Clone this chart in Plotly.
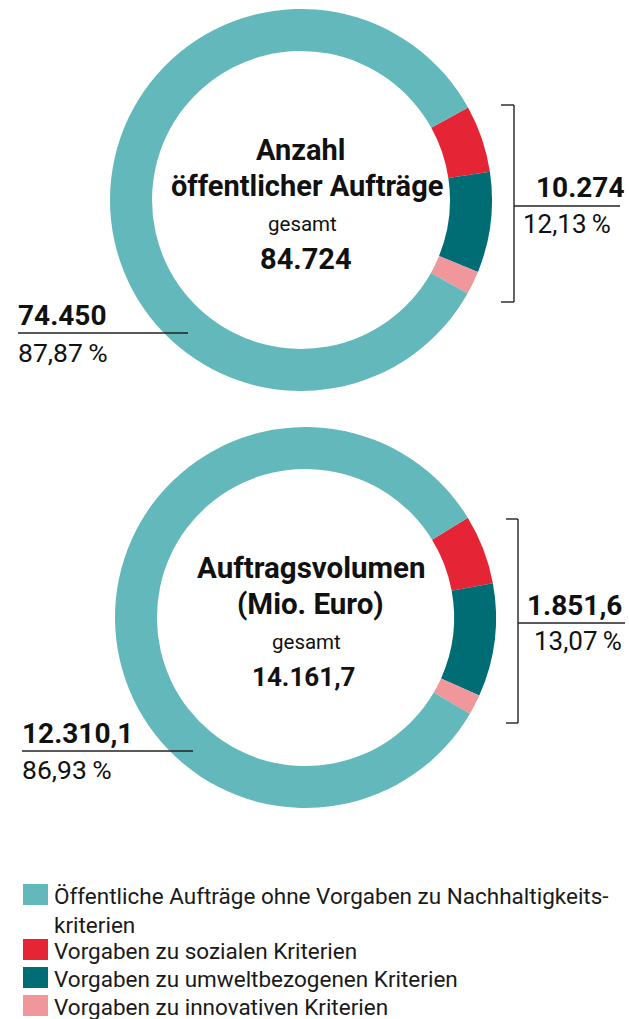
import plotly.graph_objects as go

# ---------------- data ----------------
segment_labels = [
    "Vorgaben zu sozialen Kriterien",
    "Vorgaben zu umweltbezogenen Kriterien",
    "Vorgaben zu innovativen Kriterien",
    "Öffentliche Aufträge ohne Vorgaben zu Nachhaltigkeitskriterien",
]
segment_colors = ["#E52535", "#006D74", "#F0979B", "#62B8BA"]

# slice shares as drawn in the rings (percent of the full circle)
anzahl_shares = [5.7, 8.5, 2.0, 83.8]
volumen_shares = [5.9, 9.6, 1.7, 82.8]

anzahl_title = ["Anzahl", "öffentlicher Aufträge"]
anzahl_total = "84.724"
anzahl_with = "10.274"
anzahl_with_pct = "12,13\u2009%"
anzahl_without = "74.450"
anzahl_without_pct = "87,87\u2009%"

volumen_title = ["Auftragsvolumen", "(Mio. Euro)"]
volumen_total = "14.161,7"
volumen_with = "1.851,6"
volumen_with_pct = "13,07\u2009%"
volumen_without = "12.310,1"
volumen_without_pct = "86,93\u2009%"

legend_labels = [
    "Öffentliche Aufträge ohne Vorgaben zu Nachhaltigkeits-<br>kriterien",
    "Vorgaben zu sozialen Kriterien",
    "Vorgaben zu umweltbezogenen Kriterien",
    "Vorgaben zu innovativen Kriterien",
]
legend_colors = ["#62B8BA", "#E52535", "#006D74", "#F0979B"]

# ---------------- layout helpers ----------------
W, H = 629, 1019
FONT = "Roboto"
INK = "#111111"


def px(x):
    return x / W


def py(y):
    return 1 - y / H


fig = go.Figure()


def add_donut(shares, cx, cy, r, rotation):
    fig.add_trace(go.Pie(
        labels=segment_labels,
        values=shares,
        marker=dict(colors=segment_colors, line=dict(width=0)),
        hole=0.78,
        sort=False,
        direction="clockwise",
        rotation=rotation,
        textinfo="none",
        hoverinfo="label+percent",
        showlegend=False,
        domain=dict(x=[px(cx - r), px(cx + r)], y=[py(cy + r), py(cy - r)]),
    ))


add_donut(anzahl_shares, 301, 200, 191, 61)
add_donut(volumen_shares, 305.5, 617.5, 190.5, 58.4)

shapes = []


def line(x0, y0, x1, y1, w=1.4):
    shapes.append(dict(type="line", xref="paper", yref="paper",
                       x0=px(x0), y0=py(y0), x1=px(x1), y1=py(y1),
                       line=dict(color="#222222", width=w)))


# bracket 1
line(514, 105, 514, 302)
line(501, 105, 514, 105)
line(501, 302, 514, 302)
line(514, 206, 620, 206)
# bracket 2
line(518, 519, 518, 723)
line(506, 519, 518, 519)
line(506, 723, 518, 723)
line(518, 623, 625, 623)
# left underlines
line(18, 333, 188, 333)
line(22, 751, 193, 751)

annotations = []


def text(s, x, y, size, bold=False, xanchor="center"):
    annotations.append(dict(
        text=f"<b>{s}</b>" if bold else s,
        x=px(x), y=py(y), xref="paper", yref="paper",
        xanchor=xanchor, yanchor="middle", showarrow=False,
        font=dict(family=FONT, size=size, color=INK),
    ))


# centre texts, donut 1
text(anzahl_title[0], 300, 150, 29, True)
text(anzahl_title[1], 307, 186, 29, True)
text("gesamt", 302, 224, 20.5)
text(anzahl_total, 306, 259, 29, True)
# side texts, donut 1
text(anzahl_with, 626, 187, 28, True, "right")
text(anzahl_with_pct, 613, 224, 26, False, "right")
text(anzahl_without, 16, 316, 28, True, "left")
text(anzahl_without_pct, 16, 353, 26.5, False, "left")

# centre texts, donut 2
text(volumen_title[0], 311, 568, 29.5, True)
text(volumen_title[1], 310, 604, 29.5, True)
text("gesamt", 306, 642, 20.5)
text(volumen_total, 303, 677, 26, True)
# side texts, donut 2
text(volumen_with, 624, 605, 28, True, "right")
text(volumen_with_pct, 624, 641, 26, False, "right")
text(volumen_without, 20, 733, 28, True, "left")
text(volumen_without_pct, 20, 769, 26.5, False, "left")

# legend
legend_rows = [884, 939, 967, 995]
for lab, col, y0 in zip(legend_labels, legend_colors, legend_rows):
    shapes.append(dict(type="rect", xref="paper", yref="paper",
                       x0=px(23), x1=px(48), y0=py(y0 + 21), y1=py(y0),
                       fillcolor=col, line=dict(width=0)))
    annotations.append(dict(
        text=lab, x=px(52), y=py(y0 - 3), xref="paper", yref="paper",
        xanchor="left", yanchor="top", align="left", showarrow=False,
        font=dict(family=FONT, size=22.5, color="#1a1a1a"),
    ))

fig.update_layout(
    width=W, height=H,
    margin=dict(l=0, r=0, t=0, b=0),
    paper_bgcolor="white", plot_bgcolor="white",
    shapes=shapes, annotations=annotations,
    showlegend=False,
)

fig.write_html(
    "out.html",
    config={"displayModeBar": False},
    post_script="document.body.style.margin='0';document.body.style.overflow='hidden';",
)
